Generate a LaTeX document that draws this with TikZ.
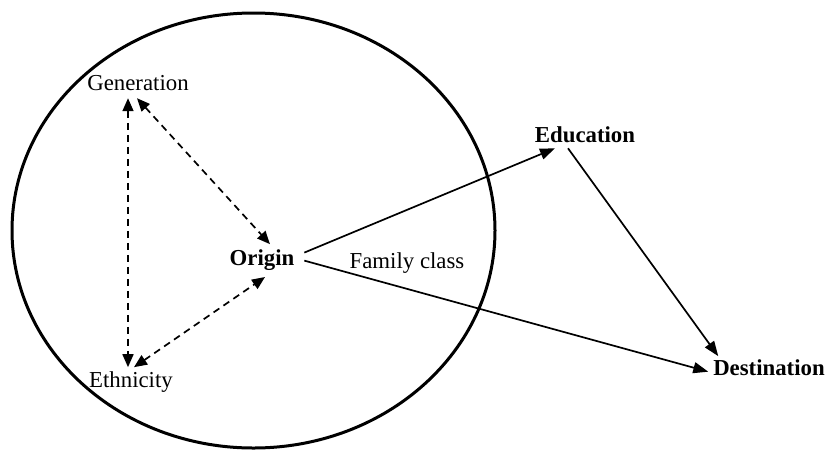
\documentclass[tikz,border=0pt]{standalone}
\usepackage{fontspec}
\setmainfont{Liberation Serif}
\usetikzlibrary{arrows.meta,positioning}

\begin{document}
\begin{tikzpicture}[
    x=0.5pt, y=-0.5pt,
    factor/.style={inner sep=0pt, outer sep=0pt, anchor=base,
                   font=\fontsize{11.4}{13}\selectfont},
    keyfactor/.style={factor, font=\fontsize{11.4}{13}\selectfont\bfseries},
    linkarrow/.style={-{Triangle[length=7.5pt, width=5.5pt]}, line width=0.85pt},
    dasharrow/.style={{Triangle[length=6.5pt, width=5.5pt]}-{Triangle[length=6.5pt, width=5.5pt]},
                      line width=0.85pt, dash pattern=on 3.5pt off 2.5pt}
  ]
    \useasboundingbox (0,0) rectangle (829,450);

    % Circle round the background factors
    \draw[line width=1.5pt] (253.5,230.5) ellipse [x radius=120.75pt, y radius=108.75pt];

    \node[factor] (generation) at (138,90) {Generation};
    \node[factor] (ethnicity) at (131,387) {Ethnicity};
    \node[keyfactor] (origin) at (262,265) {Origin};
    \node[factor] (famclass) at (407,268) {Family class};
    \node[keyfactor] (education) at (585,142) {Education};
    \node[keyfactor] (destination) at (769,375) {Destination};

    % Dashed links inside the circle
    \draw[dasharrow] ([xshift=-5pt, yshift=-4pt]generation.south)
      -- ([xshift=-1.5pt, yshift=2pt]ethnicity.north);
    \draw[dasharrow] ([xshift=-0.5pt, yshift=-4pt]generation.south)
      -- ([xshift=4pt, yshift=2.5pt]origin.north);
    \draw[dasharrow] ([xshift=1.5pt, yshift=2pt]ethnicity.north)
      -- ([xshift=1.5pt, yshift=-3.5pt]origin.south);

    % Solid links
    \draw[linkarrow] ([xshift=5pt, yshift=3.5pt]origin.east)
      -- ([xshift=-15pt, yshift=-3pt]education.south);
    \draw[linkarrow] ([xshift=5pt, yshift=-0.5pt]origin.east)
      -- ([xshift=-2.5pt, yshift=-2.25pt]destination.west);
    \draw[linkarrow] ([xshift=-8.5pt, yshift=-3pt]education.south)
      -- ([xshift=2.5pt, yshift=1.5pt]destination.north west);
  \end{tikzpicture}
\end{document}
